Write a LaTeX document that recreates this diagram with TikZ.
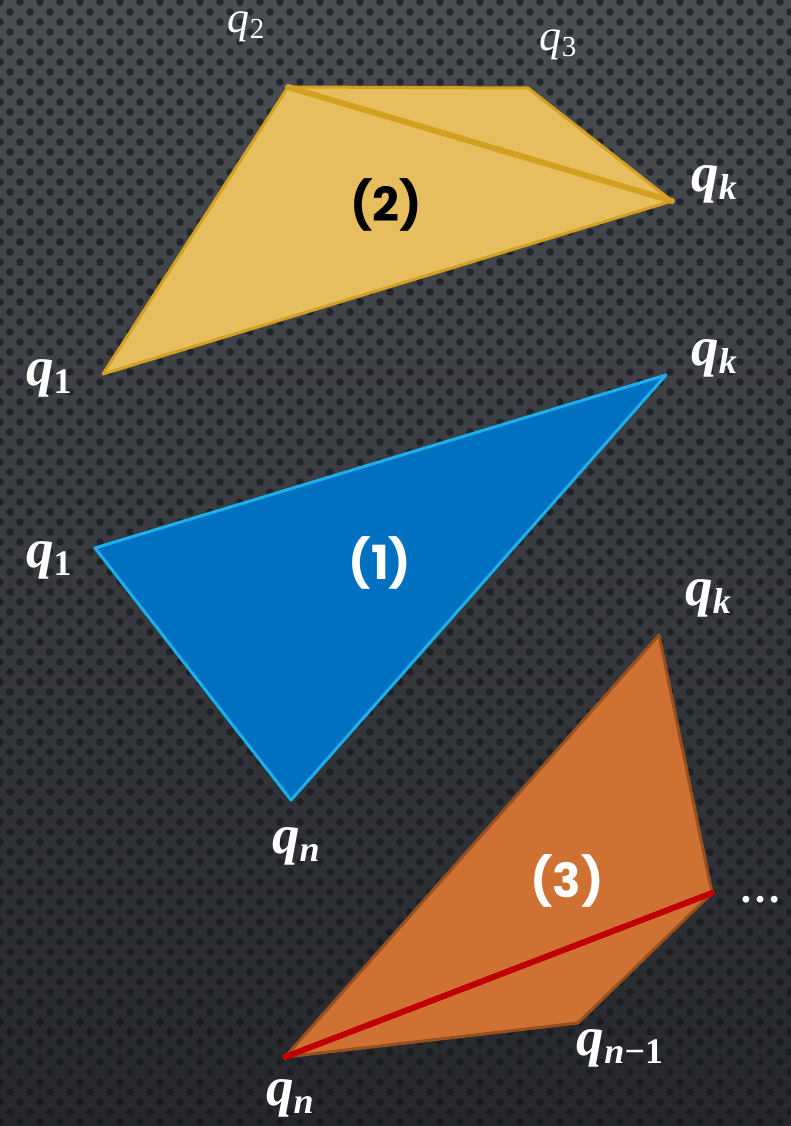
\documentclass[tikz,border=0pt]{standalone}
\usepackage{fontspec}
\setmainfont{Liberation Serif}
\newfontfamily\numfont{Poppins}
\definecolor{bgtop}{HTML}{4A4D52}
\definecolor{bgbot}{HTML}{25272B}
\definecolor{dotc}{HTML}{15181C}
\definecolor{yfill}{HTML}{E6BE5E}
\definecolor{yline}{HTML}{D4A021}
\definecolor{bfill}{HTML}{0070C0}
\definecolor{bline}{HTML}{1AB0EE}
\definecolor{ofill}{HTML}{D07134}
\definecolor{oline}{HTML}{99501F}
\definecolor{redl}{HTML}{C00000}
\newcommand{\qb}[1]{\textbf{\textit{q}}\raisebox{-0.32ex}{\fontsize{36}{38}\selectfont\textbf{#1}}}
\newcommand{\qr}[1]{\textit{q}\raisebox{-0.3ex}{\fontsize{29}{31}\selectfont #1}}
\tikzset{
  qlab/.style={text=white, font=\fontsize{55}{60}\selectfont, inner sep=0pt},
  qsmall/.style={text=white, font=\fontsize{44}{48}\selectfont, inner sep=0pt},
  numlab/.style={font=\numfont\bfseries\fontsize{47}{52}\selectfont, inner sep=0pt},
  dotlab/.style={text=white, font=\bfseries\fontsize{42}{46}\selectfont, inner sep=0pt},
}
\begin{document}
\begin{tikzpicture}[x=1pt,y=-1pt]
\useasboundingbox (0,0) rectangle (791,1126);
\shade[top color=bgtop, bottom color=bgbot] (0,0) rectangle (791,1126);
\foreach \r in {0,...,113}{
  \pgfmathsetmacro{\off}{mod(\r,2)*10}
  \foreach \c in {0,...,40}{
    \fill[dotc, opacity=0.7] (\c*20+\off, \r*10+2) circle[radius=3.8pt];
  }
}
% yellow polygon (2)
\coordinate (y1) at (103,374);
\coordinate (y2) at (288,87);
\coordinate (y3) at (528,88);
\coordinate (yk) at (672,201);
\fill[yfill] (y1) -- (y2) -- (y3) -- (yk) -- cycle;
\draw[yline, line width=3pt, line join=round] (y1) -- (y2) -- (y3) -- (yk) -- cycle;
\draw[yline, line width=6pt, line cap=round] (y2) -- (yk);
\node[numlab, text=black] (n2) at (386,205) {(2)};
% blue triangle (1)
\coordinate (b1) at (95,548);
\coordinate (bk) at (666,375);
\coordinate (bn) at (291,800);
\fill[bfill] (b1) -- (bk) -- (bn) -- cycle;
\draw[bline, line width=3pt, line join=round] (b1) -- (bk) -- (bn) -- cycle;
\node[numlab, text=white] (n1) at (380,563) {(1)};
% orange polygon (3)
\coordinate (ok) at (659,635);
\coordinate (od) at (712,893);
\coordinate (om) at (578,1023);
\coordinate (on) at (285,1057);
\fill[ofill] (ok) -- (od) -- (om) -- (on) -- cycle;
\draw[oline, line width=3pt, line join=round] (ok) -- (od) -- (om) -- (on) -- cycle;
\draw[redl, line width=6pt, line cap=round] (on) -- (od);
\node[numlab, text=white] (n3) at (567,881) {(3)};
% labels
\node[qsmall] (lq2) at (246,27) {\qr{2}};
\node[qsmall] (lq3) at (558,45) {\qr{3}};
\node[qlab] (lqk1) at (714,184) {\qb{\textit{k}}};
\node[qlab] (lq1a) at (49,378) {\qb{1}};
\node[qlab] (lqk2) at (714,358) {\qb{\textit{k}}};
\node[qlab] (lq1b) at (49,560) {\qb{1}};
\node[qlab] (lqn1) at (296,846) {\qb{\textit{n}}};
\node[qlab] (lqk3) at (708,598) {\qb{\textit{k}}};
\node[dotlab, anchor=base] (ldots) at (760,902) {\dots};
\node[qlab] (lqnm) at (620,1048) {\qb{\textit{n}−1}};
\node[qlab] (lqn2) at (290,1098) {\qb{\textit{n}}};
\end{tikzpicture}
\end{document}
